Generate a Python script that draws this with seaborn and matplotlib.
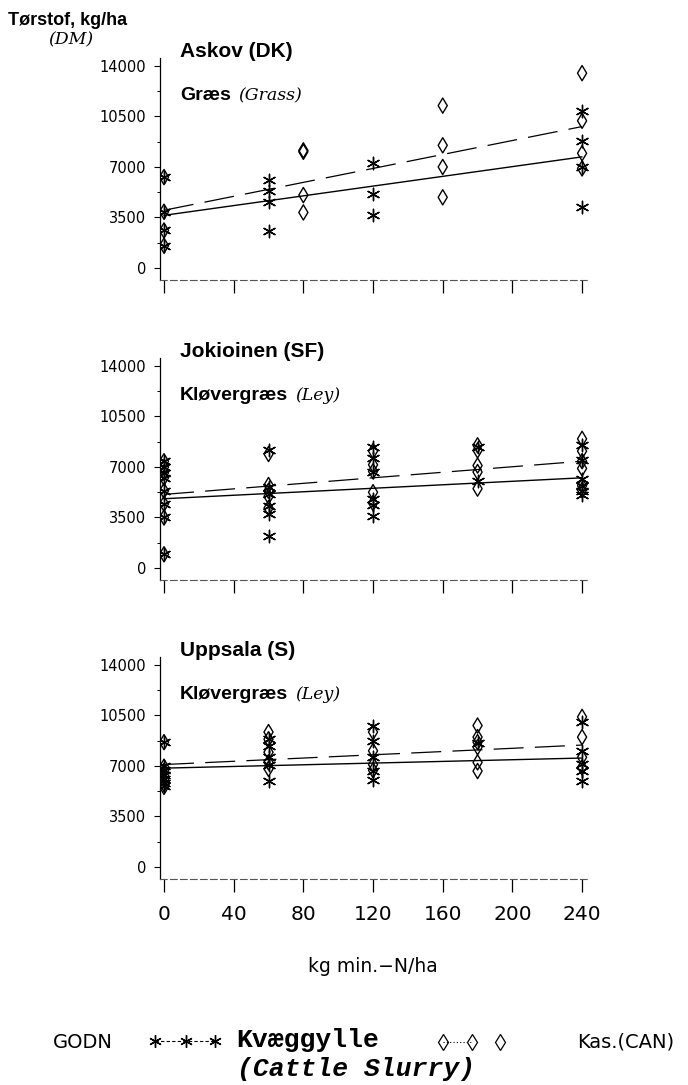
import numpy as np
import pandas as pd
import matplotlib
matplotlib.use('Agg')
import matplotlib.pyplot as plt
from matplotlib.lines import Line2D
from matplotlib.ticker import MultipleLocator
import seaborn as sns


# values (kg DM / ha)
sites = ['Askov (DK)', 'Jokioinen (SF)', 'Uppsala (S)']
crops = ['Græs', 'Kløvergræs', 'Kløvergræs']
crops_en = ['(Grass)', '(Ley)', '(Ley)']
n_ticks = [0, 40, 80, 120, 160, 200, 240]
dm_ticks = [0, 3500, 7000, 10500, 14000]

# Askov
askov_slurry_n = [0, 0, 0, 0, 60, 60, 60, 60, 120, 120, 120, 240, 240, 240, 240]
askov_slurry_dm = [6300, 3900, 2600, 1550, 6100, 5350, 4600, 2550, 7250, 5100, 3650, 10900, 8800, 7000, 4250]
askov_can_n = [0, 0, 0, 0, 80, 80, 80, 80, 160, 160, 160, 160, 240, 240, 240, 240]
askov_can_dm = [6300, 3900, 2600, 1550, 8150, 8050, 5050, 3850, 11250, 8500, 7000, 4900, 13500, 10200, 7950, 6900]

# Jokioinen
jok_slurry_n = [0, 0, 0, 0, 0, 0, 0, 0, 60, 60, 60, 60, 60, 60, 120, 120, 120, 120, 120, 120,
                180, 180, 240, 240, 240, 240, 240, 240]
jok_slurry_dm = [7400, 7000, 6600, 6250, 5350, 4450, 3500, 950, 8200, 5600, 5100, 4300, 3750, 2200,
                 8400, 7600, 6650, 4800, 4400, 3600, 8350, 6050, 8500, 7500, 6200, 5700, 5350, 5050]
jok_can_n = [0, 0, 0, 0, 0, 0, 0, 0, 60, 60, 60, 60, 60, 120, 120, 120, 120, 120,
             180, 180, 180, 180, 180, 240, 240, 240, 240, 240, 240]
jok_can_dm = [7400, 7000, 6600, 6250, 5350, 4450, 3500, 950, 7900, 5750, 5350, 4950, 4150,
              8100, 7150, 6700, 5250, 4500, 8500, 8150, 7100, 6650, 5500, 8950, 8100, 7400, 6900, 5700, 5400]

# Uppsala
upp_slurry_n = [0, 0, 0, 0, 0, 0, 0, 60, 60, 60, 60, 60, 120, 120, 120, 120, 120, 180,
                240, 240, 240, 240, 240]
upp_slurry_dm = [8650, 7000, 6700, 6400, 6100, 5800, 5600, 8900, 8400, 7600, 7100, 5950,
                 9800, 8750, 7600, 6650, 6050, 8600, 10050, 8050, 7150, 6650, 5950]
upp_can_n = [0, 0, 0, 0, 0, 0, 0, 60, 60, 60, 60, 60, 120, 120, 120, 120, 180, 180, 180, 180, 180, 180,
             240, 240, 240, 240]
upp_can_dm = [8650, 6950, 6650, 6350, 6050, 5750, 5550, 9350, 8850, 7950, 7250, 6800,
              9350, 8050, 7100, 6700, 9800, 9000, 8650, 8300, 7250, 6650, 10400, 9000, 7600, 6900]

# fitted lines as drawn (value at 0 and 240 kg N)
line_n = [0, 240]
slurry_lines = [[3650, 7700], [4800, 6250], [6850, 7550]]
can_lines = [[4000, 9800], [5100, 7400], [7100, 8450]]

frames = []
for site, (sn, sd, cn, cd) in zip(sites, [
        (askov_slurry_n, askov_slurry_dm, askov_can_n, askov_can_dm),
        (jok_slurry_n, jok_slurry_dm, jok_can_n, jok_can_dm),
        (upp_slurry_n, upp_slurry_dm, upp_can_n, upp_can_dm)]):
    frames.append(pd.DataFrame({'site': site, 'treat': 'slurry', 'n': sn, 'dm': sd}))
    frames.append(pd.DataFrame({'site': site, 'treat': 'can', 'n': cn, 'dm': cd}))
df = pd.concat(frames, ignore_index=True)


sns.set_theme(style='ticks')
plt.rcParams['font.family'] = ['DejaVu Sans']
plt.rcParams['text.color'] = 'black'
plt.rcParams['xtick.color'] = 'black'
plt.rcParams['ytick.color'] = 'black'

W, H = 688, 1085
fig = plt.figure(figsize=(W / 100, H / 100), dpi=100)


def fx(px):
    return px / W


def fy(py):
    return 1 - py / H


narrow_bold = ['Liberation Sans Narrow', 'Liberation Sans', 'DejaVu Sans']
serif_it = ['DejaVu Serif', 'Liberation Serif']
mono = ['Liberation Mono', 'DejaVu Sans Mono']

ax_left, ax_right = 160, 588
ax_bottoms = [280, 580, 879]
ax_h = 222
axes = []

for i, site in enumerate(sites):
    bottom = ax_bottoms[i]
    ax = fig.add_axes([fx(ax_left), fy(bottom), fx(ax_right - ax_left), ax_h / H])
    axes.append(ax)
    d = df[df.site == site]
    s = d[d.treat == 'slurry']
    c = d[d.treat == 'can']

    sns.lineplot(x=line_n, y=slurry_lines[i], ax=ax, color='black', lw=1.0)
    sns.lineplot(x=line_n, y=can_lines[i], ax=ax, color='black', lw=0.9,
                 linestyle=(0, (24, 9)))
    sns.scatterplot(data=s, x='n', y='dm', ax=ax, marker=(6, 2, 0), s=80,
                    color='black', linewidth=1.0, legend=False)
    sns.scatterplot(data=c, x='n', y='dm', ax=ax, marker='d', s=60,
                    color='black', linewidth=1.0, legend=False)
    ax.collections[-1].set_facecolor('none')
    ax.collections[-1].set_edgecolor('black')

    ax.set_xlim(-2.3, 243.4)
    ax.set_ylim(-830, 14550)
    ax.set_xticks(n_ticks)
    ax.set_yticks(dm_ticks)
    ax.yaxis.set_minor_locator(MultipleLocator(1750))
    ax.set_xlabel('')
    ax.set_ylabel('')
    sns.despine(ax=ax)
    ax.spines['left'].set_linewidth(0.9)
    ax.spines['left'].set_color('black')
    ax.spines['bottom'].set_linewidth(0.8)
    ax.spines['bottom'].set_color('#555555')
    ax.spines['bottom'].set_linestyle((0, (6, 3)))
    ax.tick_params(axis='x', direction='out', length=9.5, width=0.9, color='black',
                   labelsize=14.5, pad=9, labelcolor='black')
    ax.tick_params(axis='y', which='major', direction='out', length=4, width=0.8,
                   color='black', labelsize=10.5, pad=6, labelcolor='black')
    ax.tick_params(axis='y', which='minor', direction='out', length=2.5, width=0.7,
                   color='black')
    if i < 2:
        ax.set_xticklabels([])

    top = bottom - ax_h
    fig.text(fx(180), fy(top - 1), site, family=narrow_bold, weight='bold',
             fontsize=15, va='baseline', ha='left', color='black')
    t = fig.text(fx(180), fy(top + 42), crops[i], family=narrow_bold, weight='bold',
                 fontsize=14, va='baseline', ha='left', color='black')
    fig.text(0, 0, '', transform=None)
    plt.annotate(crops_en[i], xy=(1, 0), xycoords=t, xytext=(5, 0),
                 textcoords='offset points', family=serif_it, style='italic',
                 fontsize=12.5, va='bottom', ha='left', color='black')

# y label block
fig.text(fx(8), fy(25), 'Tørstof, kg/ha', family=narrow_bold, weight='bold',
         fontsize=13, va='baseline', ha='left')
fig.text(fx(48), fy(44), '(DM)', family=serif_it, style='italic', fontsize=12.5,
         va='baseline', ha='left')

# x label
fig.text(fx(373), fy(972), 'kg min.\u2212N/ha', fontsize=13.5, va='baseline', ha='center')

# legend row
fig.text(fx(53), fy(1048), 'GODN', fontsize=14, va='baseline', ha='left')
fig.add_artist(Line2D([fx(155), fx(186), fx(215)], [fy(1041)] * 3, color='black', lw=0.8,
                      linestyle=(0, (3, 2)), marker=(6, 2, 0), markersize=9,
                      markeredgewidth=1.0, transform=fig.transFigure))
fig.text(fx(236), fy(1047), 'Kvæggylle', family=mono, weight='bold',
         fontsize=19, va='baseline', ha='left')
fig.text(fx(237), fy(1076), '(Cattle Slurry)', family=mono, weight='bold',
         style='italic', fontsize=19, va='baseline', ha='left')
fig.add_artist(Line2D([fx(443), fx(472)], [fy(1042)] * 2, color='black', lw=0.8,
                      linestyle=(0, (1, 2)), marker='d', markersize=8, mfc='none',
                      mec='black', markeredgewidth=0.9, transform=fig.transFigure))
fig.add_artist(Line2D([fx(500)], [fy(1042)], color='black', lw=0, marker='d',
                      markersize=8, mfc='none', mec='black', markeredgewidth=0.9,
                      transform=fig.transFigure))
fig.text(fx(577), fy(1048), 'Kas.(CAN)', fontsize=14, va='baseline', ha='left')

fig.savefig('out.png', dpi=100, facecolor='white')
